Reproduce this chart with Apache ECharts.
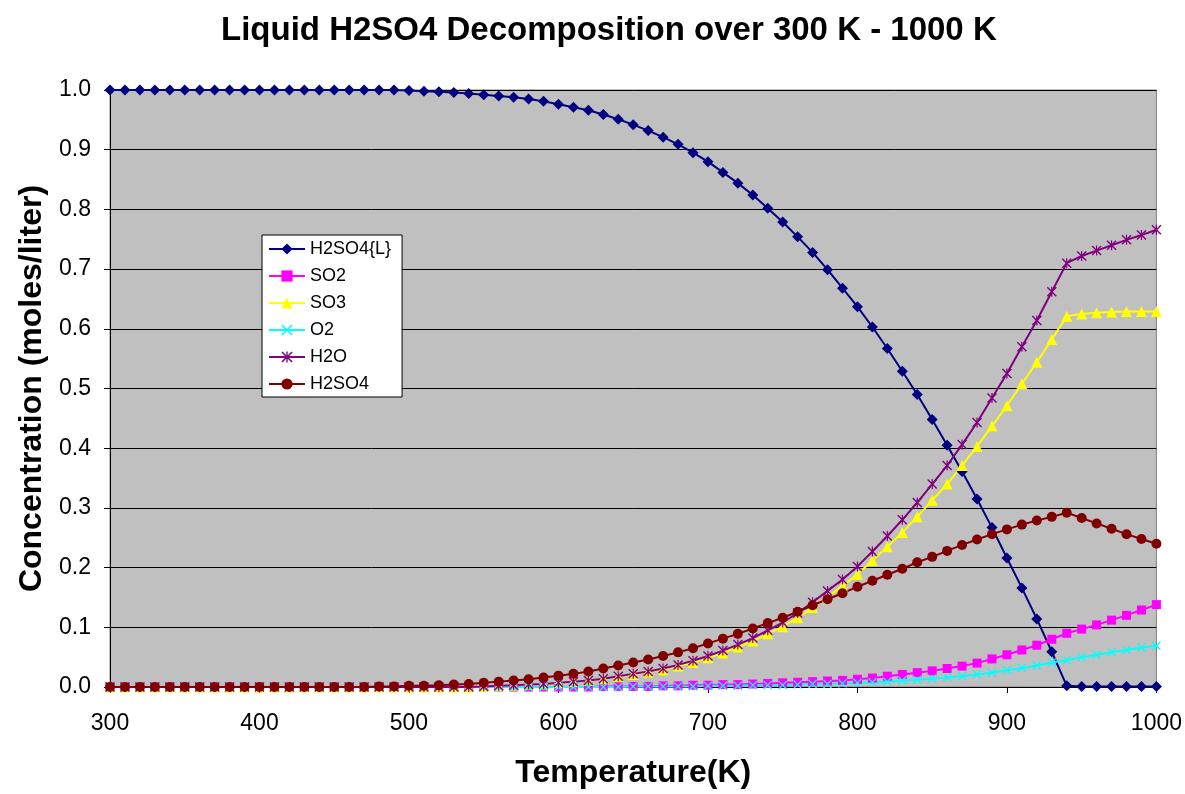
<!DOCTYPE html>
<html>
<head>
<meta charset="utf-8">
<script src="https://cdn.jsdelivr.net/npm/echarts@6/dist/echarts.min.js"></script>
<style>
  html, body { margin: 0; padding: 0; background: #ffffff; }
  #chart { width: 1185px; height: 794px; }
</style>
</head>
<body>
<div id="chart"></div>
<script>
// Temperature grid (K)
const temperatures = [
  300, 310, 320, 330, 340, 350, 360, 370, 380, 390,
  400, 410, 420, 430, 440, 450, 460, 470, 480, 490,
  500, 510, 520, 530, 540, 550, 560, 570, 580, 590,
  600, 610, 620, 630, 640, 650, 660, 670, 680, 690,
  700, 710, 720, 730, 740, 750, 760, 770, 780, 790,
  800, 810, 820, 830, 840, 850, 860, 870, 880, 890,
  900, 910, 920, 930, 940, 950, 960, 970, 980, 990,
  1000
];

// Concentrations (moles/liter) per species
const h2so4Liquid = [
  1.000, 1.000, 1.000, 1.000, 1.000, 1.000, 1.000, 1.000, 1.000, 1.000,
  1.000, 1.000, 1.000, 1.000, 1.000, 1.000, 1.000, 1.000, 1.000, 1.000,
  0.999, 0.998, 0.997, 0.996, 0.994, 0.992, 0.990, 0.988, 0.985, 0.981,
  0.976, 0.971, 0.966, 0.959, 0.951, 0.942, 0.932, 0.921, 0.909, 0.895,
  0.880, 0.862, 0.844, 0.824, 0.802, 0.779, 0.754, 0.728, 0.699, 0.668,
  0.637, 0.603, 0.567, 0.529, 0.490, 0.448, 0.405, 0.361, 0.315, 0.267,
  0.216, 0.166, 0.114, 0.059, 0.002, 0.001, 0.001, 0.001, 0.001, 0.001,
  0.001
];
const so2 = [
  0.000, 0.000, 0.000, 0.000, 0.000, 0.000, 0.000, 0.000, 0.000, 0.000,
  0.000, 0.000, 0.000, 0.000, 0.000, 0.000, 0.000, 0.000, 0.000, 0.000,
  0.000, 0.000, 0.000, 0.000, 0.000, 0.000, 0.000, 0.000, 0.000, 0.000,
  0.000, 0.000, 0.000, 0.001, 0.001, 0.001, 0.001, 0.002, 0.002, 0.003,
  0.003, 0.004, 0.004, 0.005, 0.006, 0.007, 0.008, 0.009, 0.010, 0.011,
  0.013, 0.015, 0.018, 0.021, 0.024, 0.027, 0.031, 0.035, 0.040, 0.047,
  0.054, 0.062, 0.070, 0.080, 0.090, 0.097, 0.104, 0.112, 0.120, 0.129,
  0.138
];
const so3 = [
  0.000, 0.000, 0.000, 0.000, 0.000, 0.000, 0.000, 0.000, 0.000, 0.000,
  0.000, 0.000, 0.000, 0.000, 0.000, 0.000, 0.000, 0.000, 0.000, 0.000,
  0.000, 0.000, 0.000, 0.000, 0.000, 0.001, 0.002, 0.003, 0.004, 0.005,
  0.007, 0.009, 0.011, 0.014, 0.017, 0.021, 0.025, 0.029, 0.035, 0.041,
  0.049, 0.057, 0.067, 0.077, 0.089, 0.101, 0.116, 0.133, 0.151, 0.169,
  0.189, 0.212, 0.235, 0.259, 0.285, 0.313, 0.340, 0.371, 0.403, 0.437,
  0.471, 0.508, 0.544, 0.582, 0.621, 0.625, 0.627, 0.628, 0.629, 0.629,
  0.629
];
const o2 = [
  0.000, 0.000, 0.000, 0.000, 0.000, 0.000, 0.000, 0.000, 0.000, 0.000,
  0.000, 0.000, 0.000, 0.000, 0.000, 0.000, 0.000, 0.000, 0.000, 0.000,
  0.000, 0.000, 0.000, 0.000, 0.000, 0.000, 0.000, 0.000, 0.000, 0.000,
  0.000, 0.000, 0.000, 0.000, 0.000, 0.001, 0.001, 0.001, 0.001, 0.001,
  0.002, 0.002, 0.002, 0.003, 0.003, 0.003, 0.004, 0.005, 0.005, 0.006,
  0.007, 0.008, 0.009, 0.011, 0.012, 0.014, 0.016, 0.018, 0.021, 0.024,
  0.028, 0.032, 0.036, 0.041, 0.045, 0.050, 0.054, 0.058, 0.062, 0.066,
  0.069
];
const h2o = [
  0.000, 0.000, 0.000, 0.000, 0.000, 0.000, 0.000, 0.000, 0.000, 0.000,
  0.000, 0.000, 0.000, 0.000, 0.000, 0.000, 0.000, 0.000, 0.000, 0.000,
  0.000, 0.000, 0.000, 0.000, 0.000, 0.001, 0.002, 0.003, 0.004, 0.005,
  0.007, 0.009, 0.011, 0.014, 0.018, 0.022, 0.026, 0.031, 0.037, 0.044,
  0.052, 0.061, 0.071, 0.082, 0.095, 0.108, 0.124, 0.142, 0.161, 0.180,
  0.202, 0.227, 0.253, 0.280, 0.309, 0.340, 0.371, 0.406, 0.443, 0.484,
  0.525, 0.570, 0.614, 0.662, 0.710, 0.722, 0.731, 0.740, 0.749, 0.757,
  0.766
];
const h2so4 = [
  0.000, 0.000, 0.000, 0.000, 0.000, 0.000, 0.000, 0.000, 0.000, 0.000,
  0.000, 0.000, 0.000, 0.000, 0.000, 0.000, 0.000, 0.000, 0.001, 0.001,
  0.002, 0.002, 0.003, 0.004, 0.005, 0.007, 0.009, 0.011, 0.013, 0.016,
  0.019, 0.022, 0.026, 0.031, 0.036, 0.041, 0.046, 0.052, 0.058, 0.065,
  0.073, 0.081, 0.089, 0.098, 0.107, 0.116, 0.126, 0.137, 0.147, 0.157,
  0.168, 0.178, 0.188, 0.198, 0.209, 0.218, 0.228, 0.238, 0.247, 0.256,
  0.264, 0.272, 0.279, 0.285, 0.292, 0.283, 0.274, 0.265, 0.256, 0.248,
  0.240
];

const seriesNames = ['H2SO4{L}', 'SO2', 'SO3', 'O2', 'H2O', 'H2SO4'];
const seriesValues = [h2so4Liquid, so2, so3, o2, h2o, h2so4];

const FONT = '"Liberation Sans", Arial, Helvetica, sans-serif';

// Marker shapes: thin "x" cross and asterisk (x plus vertical bar)
const crossPath = 'path://M0,1 L1,0 L5,4 L9,0 L10,1 L6,5 L10,9 L9,10 L5,6 L1,10 L0,9 L4,5 Z';
const starPath = 'path://M0,1 L1,0 L5,4 L9,0 L10,1 L6,5 L10,9 L9,10 L5,6 L1,10 L0,9 L4,5 Z M4.4,0 L5.6,0 L5.6,10 L4.4,10 Z';

const styles = [
  { color: '#000080', symbol: 'diamond', size: 11 },
  { color: '#FF00FF', symbol: 'rect', size: 9 },
  { color: '#FFFF00', symbol: 'triangle', size: 11 },
  { color: '#00FFFF', symbol: crossPath, size: 9 },
  { color: '#800080', symbol: starPath, size: 10 },
  { color: '#800000', symbol: 'circle', size: 10 }
];

const series = seriesNames.map((name, k) => ({
  name: name,
  type: 'line',
  data: temperatures.map((t, i) => [t, seriesValues[k][i]]),
  symbol: styles[k].symbol,
  symbolSize: styles[k].size,
  showAllSymbol: true,
  clip: false,
  lineStyle: { color: styles[k].color, width: 2 },
  itemStyle: { color: styles[k].color, borderWidth: 0 },
  emphasis: { disabled: true },
  animation: false
}));

const chart = echarts.init(document.getElementById('chart'), null, { renderer: 'canvas' });
chart.setOption({
  backgroundColor: '#ffffff',
  animation: false,
  title: {
    text: 'Liquid H2SO4 Decomposition over 300 K - 1000 K',
    left: 216,
    top: 9,
    textStyle: { fontFamily: FONT, fontSize: 33, fontWeight: 'bold', color: '#000000' }
  },
  grid: {
    left: 110, top: 90, width: 1047, height: 600,
    show: true,
    backgroundColor: '#C0C0C0',
    borderColor: '#808080',
    borderWidth: 1
  },
  legend: {
    orient: 'vertical',
    left: 262,
    top: 235,
    data: seriesNames,
    backgroundColor: '#ffffff',
    borderColor: '#000000',
    borderWidth: 1,
    padding: [5, 11, 4, 6],
    itemWidth: 36,
    itemHeight: 14,
    itemGap: 9,
    textStyle: { fontFamily: FONT, fontSize: 18, color: '#000000' }
  },
  xAxis: {
    type: 'value',
    min: 300, max: 1000, interval: 100,
    name: 'Temperature(K)',
    nameLocation: 'middle',
    nameGap: 70,
    nameTextStyle: { fontFamily: FONT, fontSize: 32, fontWeight: 'bold', color: '#000000' },
    axisLine: { show: true, onZero: false, lineStyle: { color: '#000000', width: 1 } },
    axisTick: { show: true, inside: false, length: 6, lineStyle: { color: '#000000' } },
    axisLabel: {
      fontFamily: FONT, fontSize: 23, color: '#000000', margin: 25,
      formatter: v => String(v)
    },
    splitLine: { show: false }
  },
  yAxis: {
    type: 'value',
    min: 0, max: 1, interval: 0.1,
    name: 'Concentration (moles/liter)',
    nameLocation: 'middle',
    nameRotate: 90,
    nameGap: 54,
    nameTextStyle: { fontFamily: FONT, fontSize: 32, fontWeight: 'bold', color: '#000000' },
    axisLine: { show: true, lineStyle: { color: '#000000', width: 1 } },
    axisTick: { show: true, inside: false, length: 6, lineStyle: { color: '#000000' } },
    axisLabel: {
      fontFamily: FONT, fontSize: 23, color: '#000000', margin: 19,
      formatter: v => v.toFixed(1)
    },
    splitLine: { show: true, lineStyle: { color: '#000000', width: 1 } }
  },
  series: series
});
</script>
</body>
</html>
